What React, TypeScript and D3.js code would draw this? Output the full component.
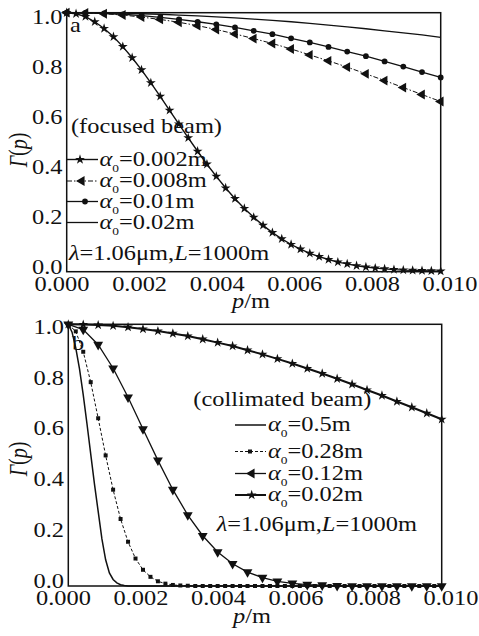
import React from "react";
import * as d3 from "d3";

const W = 479;
const H = 636;
const SX = 1.22; // the scan is stretched horizontally
const FONT = "'Liberation Serif', 'Times New Roman', Times, serif";

// x ticks / y ticks
const xTicks = [0, 0.002, 0.004, 0.006, 0.008, 0.01];
const xTickLabels = ["0.000", "0.002", "0.004", "0.006", "0.008", "0.010"];
const yTicks = [0, 0.2, 0.4, 0.6, 0.8, 1.0];
const yTickLabels = ["0.0", "0.2", "0.4", "0.6", "0.8", "1.0"];

// sample positions p (m)
const p25 = [0, 0.00025, 0.0005, 0.00075, 0.001, 0.00125, 0.0015, 0.00175, 0.002, 0.00225, 0.0025, 0.00275, 0.003, 0.00325, 0.0035, 0.00375, 0.004, 0.00425, 0.0045, 0.00475, 0.005, 0.00525, 0.0055, 0.00575, 0.006, 0.00625, 0.0065, 0.00675, 0.007, 0.00725, 0.0075, 0.00775, 0.008, 0.00825, 0.0085, 0.00875, 0.009, 0.00925, 0.0095, 0.00975, 0.01];
const p50 = [0, 0.0005, 0.001, 0.0015, 0.002, 0.0025, 0.003, 0.0035, 0.004, 0.0045, 0.005, 0.0055, 0.006, 0.0065, 0.007, 0.0075, 0.008, 0.0085, 0.009, 0.0095, 0.01];
const p40 = [0, 0.0004, 0.0008, 0.0012, 0.0016, 0.002, 0.0024, 0.0028, 0.0032, 0.0036, 0.004, 0.0044, 0.0048, 0.0052, 0.0056, 0.006, 0.0064, 0.0068, 0.0072, 0.0076, 0.008, 0.0084, 0.0088, 0.0092, 0.0096, 0.01];
const p20 = [0, 0.0002, 0.0004, 0.0006, 0.0008, 0.001, 0.0012, 0.0014, 0.0016, 0.0018, 0.002, 0.0022, 0.0024, 0.0026, 0.0028, 0.003, 0.0032, 0.0034, 0.0036, 0.0038, 0.004, 0.0042, 0.0044, 0.0046, 0.0048, 0.005, 0.0052, 0.0054, 0.0056, 0.0058, 0.006, 0.0062, 0.0064, 0.0066, 0.0068, 0.007, 0.0072, 0.0074, 0.0076, 0.0078, 0.008, 0.0082, 0.0084, 0.0086, 0.0088, 0.009, 0.0092, 0.0094, 0.0096, 0.0098, 0.01];
const p10 = [0, 0.0001, 0.0002, 0.0003, 0.0004, 0.0005, 0.0006, 0.0007, 0.0008, 0.0009, 0.001, 0.0011, 0.0012, 0.0013, 0.0014, 0.0015, 0.0016, 0.01];

// (a) focused beam, Gamma(p)
const focused002 = [1.0, 0.996, 0.985, 0.965, 0.939, 0.907, 0.869, 0.826, 0.779, 0.729, 0.677, 0.623, 0.57, 0.517, 0.465, 0.415, 0.368, 0.323, 0.282, 0.244, 0.21, 0.179, 0.151, 0.127, 0.105, 0.087, 0.071, 0.058, 0.047, 0.037, 0.03, 0.023, 0.018, 0.014, 0.011, 0.008, 0.006, 0.005, 0.004, 0.003, 0.002];
const focused008 = [1.0, 0.999, 0.996, 0.991, 0.983, 0.974, 0.963, 0.95, 0.935, 0.918, 0.9, 0.881, 0.86, 0.837, 0.814, 0.79, 0.764, 0.738, 0.711, 0.684, 0.657];
const focused01 = [1.0, 0.999, 0.997, 0.994, 0.989, 0.982, 0.974, 0.965, 0.955, 0.943, 0.93, 0.917, 0.901, 0.885, 0.868, 0.85, 0.832, 0.812, 0.792, 0.771, 0.75];
const focused02 = [1.0, 1.0, 0.999, 0.998, 0.996, 0.994, 0.991, 0.988, 0.984, 0.98, 0.975, 0.97, 0.965, 0.959, 0.952, 0.945, 0.938, 0.93, 0.922, 0.914, 0.905];

// (b) collimated beam, Gamma(p)
const collim05 = [1.0, 0.97, 0.91, 0.83, 0.73, 0.62, 0.505, 0.39, 0.285, 0.18, 0.1, 0.05, 0.025, 0.012, 0.005, 0.002, 0, 0];
const collim028 = [1.0, 0.973, 0.895, 0.779, 0.641, 0.499, 0.368, 0.256, 0.169, 0.105, 0.062, 0.035, 0.018, 0.009, 0.004, 0.002, 0.001, 0, 0, 0, 0, 0, 0, 0, 0, 0, 0, 0, 0, 0, 0, 0, 0, 0, 0, 0, 0, 0, 0, 0, 0, 0, 0, 0, 0, 0, 0, 0, 0, 0, 0];
const collim012 = [1.0, 0.98, 0.922, 0.832, 0.721, 0.6, 0.48, 0.368, 0.271, 0.192, 0.13, 0.085, 0.053, 0.032, 0.018, 0.01, 0.005, 0.003, 0.001, 0, 0, 0, 0, 0, 0, 0];
const collim002 = [1.0, 0.999, 0.997, 0.994, 0.989, 0.982, 0.974, 0.965, 0.955, 0.943, 0.93, 0.917, 0.901, 0.885, 0.868, 0.85, 0.831, 0.812, 0.792, 0.771, 0.749, 0.728, 0.705, 0.683, 0.66, 0.637];

const focusedNames = ["0.002m", "0.008m", "0.01m", "0.02m"];
const collimNames = ["0.5m", "0.28m", "0.12m", "0.02m"];

const MARK = {
  star: d3.symbol(d3.symbolStar, 30)(),
  tri: d3.symbol(d3.symbolTriangle, 42)(),
  circle: d3.symbol(d3.symbolCircle, 26)(),
  square: d3.symbol(d3.symbolSquare, 16)(),
};

const Mark = ({ kind, x, y, rot = 0 }) =>
  kind ? <path d={MARK[kind]} transform={`translate(${x},${y}) rotate(${rot})`} fill="#111" /> : null;

const T = ({ x, y, anchor = "start", size = 20, rot = 0, base = "auto", children }) => (
  <text
    transform={`translate(${x},${y}) scale(${SX},1)${rot ? ` rotate(${rot})` : ""}`}
    textAnchor={anchor}
    dominantBaseline={base}
    fontSize={size}
    fontFamily={FONT}
    fill="#111"
  >
    {children}
  </text>
);

const topSeries = [
  { p: p25, g: focused002, mark: "star", rot: 0, width: 1.4, dash: null },
  { p: p50, g: focused008, mark: "tri", rot: -90, width: 1, dash: "5,2,1.5,2" },
  { p: p50, g: focused01, mark: "circle", rot: 0, width: 1.3, dash: null },
  { p: p50, g: focused02, mark: null, rot: 0, width: 1.3, dash: null },
];
const bottomSeries = [
  { p: p10, g: collim05, mark: null, rot: 0, width: 1.5, dash: null },
  { p: p20, g: collim028, mark: "square", rot: 0, width: 1, dash: "3,2" },
  { p: p40, g: collim012, mark: "tri", rot: 180, width: 1.3, dash: null },
  { p: p40, g: collim002, mark: "star", rot: 0, width: 2, dash: null },
];
const bottomLegendRot = [0, 0, -90, 0];

const topLayout = {
  left: 66.7, right: 440.7, top: 12.7, bottom: 271.7,
  xLab: [62, 450], xLabY: 291, yLab: [267, 17], yLabX: 62.5,
  pmX: 251, pmY: 307.5, gammaX: 18, gammaY: 150,
  tag: "a", tagX: 70, tagY: 31.5,
  title: "(focused beam)", titleX: 71, titleY: 133,
  legX: [67, 98], legMark: [80, 81.7, 85, 0], legTextX: 99.5, legRows: [159.5, 181, 201.5, 222.5],
  lamX: 69, lamY: 260,
};
const bottomLayout = {
  left: 68.3, right: 441.7, top: 324.3, bottom: 586,
  xLab: [63.5, 451], xLabY: 605, yLab: [581, 327], yLabX: 64,
  pmX: 252, pmY: 622.5, gammaX: 18, gammaY: 459,
  tag: "b", tagX: 72, tagY: 350,
  title: "(collimated beam)", titleX: 193.3, titleY: 406,
  legX: [235, 266], legMark: [0, 250, 251.7, 251.7], legTextX: 268, legRows: [425, 451.5, 473.5, 495],
  lamX: 216.7, lamY: 531,
};

function Panel({ L, series, names, legendRot }) {
  const x = d3.scaleLinear().domain([0, 0.01]).range([L.left, L.right]);
  const y = d3.scaleLinear().domain([0, 1]).range([L.bottom, L.top]);
  const xl = d3.scaleLinear().domain([0, 0.01]).range(L.xLab);
  const yl = d3.scaleLinear().domain([0, 1]).range(L.yLab);
  const line = d3.line().x((d) => x(d[0])).y((d) => y(d[1]));

  return (
    <g>
      {series.map((s, i) => (
        <path
          key={"l" + i}
          d={line(s.p.map((v, j) => [v, s.g[j]]))}
          fill="none"
          stroke="#111"
          strokeWidth={s.width}
          strokeDasharray={s.dash || undefined}
        />
      ))}
      {series.map((s, i) =>
        s.mark
          ? s.p.map((v, j) => <Mark key={`m${i}-${j}`} kind={s.mark} x={x(v)} y={y(s.g[j])} rot={s.rot} />)
          : null
      )}
      <rect x={L.left} y={L.top} width={L.right - L.left} height={L.bottom - L.top} fill="none" stroke="#111" strokeWidth={1.5} />

      {xTicks.map((v, i) => (
        <T key={"xt" + i} x={xl(v)} y={L.xLabY} anchor="middle">{xTickLabels[i]}</T>
      ))}
      {yTicks.map((v, i) => (
        <T key={"yt" + i} x={L.yLabX} y={yl(v)} anchor="end" base="central">{yTickLabels[i]}</T>
      ))}
      <T x={L.pmX} y={L.pmY} anchor="middle">
        <tspan fontStyle="italic">p</tspan>/m
      </T>
      <T x={L.gammaX} y={L.gammaY} anchor="middle" base="central" rot={-90}>
        <tspan fontStyle="italic">Γ</tspan>(<tspan fontStyle="italic">p</tspan>)
      </T>
      <T x={L.tagX} y={L.tagY}>{L.tag}</T>
      <T x={L.titleX} y={L.titleY}>{L.title}</T>

      {series.map((s, i) => {
        const ry = L.legRows[i];
        return (
          <g key={"lg" + i}>
            <line x1={L.legX[0]} x2={L.legX[1]} y1={ry} y2={ry} stroke="#111" strokeWidth={s.width} strokeDasharray={s.dash || undefined} />
            {s.mark ? <Mark kind={s.mark} x={L.legMark[i]} y={ry} rot={legendRot ? legendRot[i] : s.rot} /> : null}
            <T x={L.legTextX} y={ry + 6}>
              <tspan fontStyle="italic">α</tspan>
              <tspan fontSize={11} dy={6}>0</tspan>
              <tspan dy={-6}>={names[i]}</tspan>
            </T>
          </g>
        );
      })}
      <T x={L.lamX} y={L.lamY}>
        <tspan fontStyle="italic">λ</tspan>=1.06μm,<tspan fontStyle="italic">L</tspan>=1000m
      </T>
    </g>
  );
}

export default function App() {
  return (
    <svg width={W} height={H} viewBox={`0 0 ${W} ${H}`} style={{ position: "absolute", left: 0, top: 0, background: "#fff" }}>
      <rect width={W} height={H} fill="#fff" />
      <Panel L={topLayout} series={topSeries} names={focusedNames} legendRot={null} />
      <Panel L={bottomLayout} series={bottomSeries} names={collimNames} legendRot={bottomLegendRot} />
    </svg>
  );
}
